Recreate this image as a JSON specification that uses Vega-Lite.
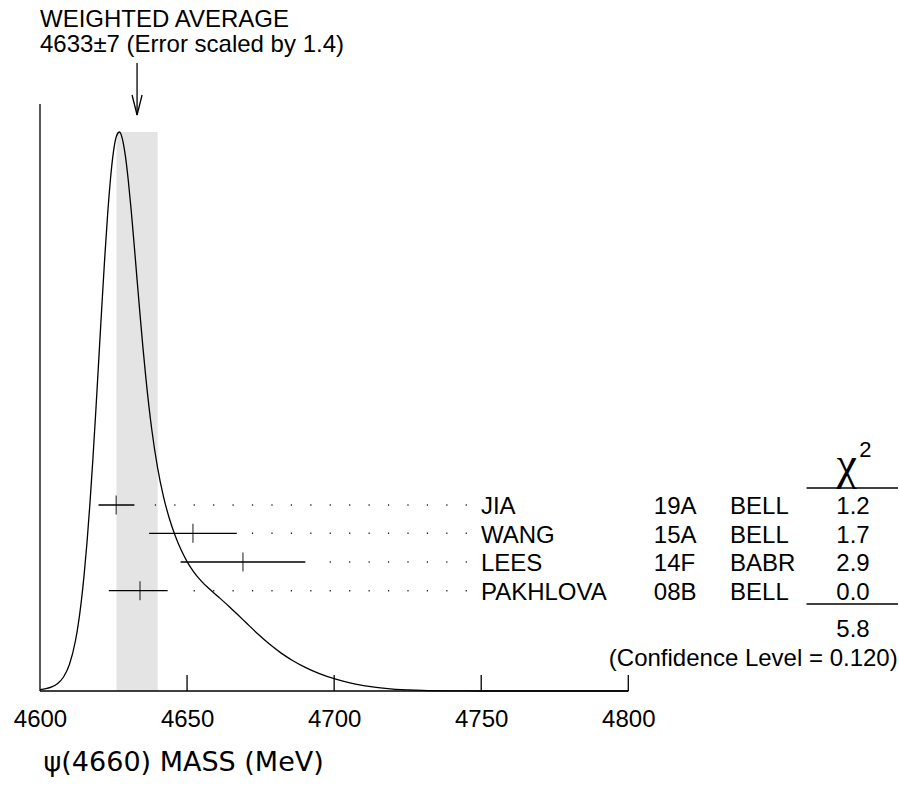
{
  "$schema": "https://vega.github.io/schema/vega-lite/v6.json",
  "width": 858,
  "height": 691,
  "autosize": {"type": "none"},
  "padding": {"left": 40, "top": 0, "right": 1, "bottom": 98},
  "background": "white",
  "config": {"view": {"stroke": null}},
  "datasets": {
    "curve": [
      {"m": 4600, "h": 1.3}, {"m": 4602, "h": 2.3}, {"m": 4604, "h": 4.1}, {"m": 4606, "h": 7.5},
      {"m": 4608, "h": 14.0}, {"m": 4610, "h": 26.5}, {"m": 4612, "h": 49.5}, {"m": 4613, "h": 66.7},
      {"m": 4614, "h": 88.7}, {"m": 4615, "h": 116.1}, {"m": 4616, "h": 149.3}, {"m": 4617, "h": 188.4},
      {"m": 4618, "h": 232.7}, {"m": 4619, "h": 281.3}, {"m": 4620, "h": 332.4}, {"m": 4621, "h": 383.8},
      {"m": 4622, "h": 432.9}, {"m": 4623, "h": 476.9}, {"m": 4624, "h": 513.3}, {"m": 4625, "h": 539.8},
      {"m": 4626, "h": 555.0}, {"m": 4627, "h": 559.0}, {"m": 4628, "h": 552.2}, {"m": 4629, "h": 535.6},
      {"m": 4630, "h": 511.0}, {"m": 4631, "h": 480.7}, {"m": 4632, "h": 446.8}, {"m": 4633, "h": 411.4},
      {"m": 4634, "h": 376.6}, {"m": 4635, "h": 343.4}, {"m": 4636, "h": 312.9}, {"m": 4638, "h": 261.5},
      {"m": 4640, "h": 222.8}, {"m": 4642, "h": 194.1}, {"m": 4644, "h": 172.3}, {"m": 4646, "h": 155.0},
      {"m": 4648, "h": 140.9}, {"m": 4650, "h": 129.4}, {"m": 4652, "h": 120.2}, {"m": 4655, "h": 109.4},
      {"m": 4658, "h": 100.9}, {"m": 4661, "h": 93.2}, {"m": 4664, "h": 85.3}, {"m": 4667, "h": 77.0},
      {"m": 4670, "h": 68.5}, {"m": 4674, "h": 57.2}, {"m": 4678, "h": 46.9}, {"m": 4682, "h": 37.9},
      {"m": 4686, "h": 30.3}, {"m": 4690, "h": 23.9}, {"m": 4695, "h": 17.4}, {"m": 4700, "h": 12.3},
      {"m": 4705, "h": 8.3}, {"m": 4710, "h": 5.4}, {"m": 4715, "h": 3.3}, {"m": 4720, "h": 1.9},
      {"m": 4725, "h": 1.1}, {"m": 4730, "h": 0.55}, {"m": 4740, "h": 0.13}, {"m": 4750, "h": 0.02},
      {"m": 4770, "h": 0}, {"m": 4800, "h": 0}
    ],
    "meas": [
      {"name": "JIA", "ref": "19A", "exp": "BELL", "chi2": "1.2", "val": 4625.9, "lo": 4619.9, "hi": 4632.1, "dotFrom": 4745.13, "dotTo": 4638.8, "row": 186},
      {"name": "WANG", "ref": "15A", "exp": "BELL", "chi2": "1.7", "val": 4652, "lo": 4637.1, "hi": 4666.9, "dotFrom": 4745.13, "dotTo": 4671.9, "row": 157.7},
      {"name": "LEES", "ref": "14F", "exp": "BABR", "chi2": "2.9", "val": 4669, "lo": 4647.8, "hi": 4690.2, "dotFrom": 4745.13, "dotTo": 4698.2, "row": 129},
      {"name": "PAKHLOVA", "ref": "08B", "exp": "BELL", "chi2": "0.0", "val": 4634, "lo": 4623.4, "hi": 4643.4, "dotFrom": 4745.13, "dotTo": 4652.0, "row": 100.3}
    ],
    "band": [{"lo": 4626, "hi": 4640, "bottom": 0, "top": 559}],
    "ticks": [{"m": 4650, "a": 0, "b": 16}, {"m": 4700, "a": 0, "b": 16}, {"m": 4750, "a": 0, "b": 16}, {"m": 4800, "a": 0, "b": 16}],
    "arrowhead": [{"m": 4631.3, "h": 596, "o": 1}, {"m": 4633, "h": 576, "o": 2}, {"m": 4634.7, "h": 596, "o": 3}],
    "hlines": [{"a": 4860.6, "b": 4891.7, "h": 203}, {"a": 4860.6, "b": 4891.7, "h": 87}],
    "title": [
      {"t": "WEIGHTED AVERAGE", "m": 4600, "h": 664.3},
      {"t": "4633±7 (Error scaled by 1.4)", "m": 4600, "h": 639.3}
    ]
  },
  "layer": [
    {
      "data": {"name": "band"},
      "mark": {"type": "rect", "color": "#e4e4e4"},
      "encoding": {
        "x": {"field": "lo", "type": "quantitative", "scale": {"domain": [4600, 4891.7], "nice": false, "zero": false},
          "axis": {"values": [4600, 4650, 4700, 4750, 4800], "format": "d", "ticks": false, "domain": false, "grid": false,
            "labelFont": "Liberation Sans", "labelFontSize": 24, "labelColor": "#000", "labelPadding": 16, "labelFlush": false, "labelOverlap": false,
            "title": "ψ(4660) MASS (MeV)", "titleFont": "DejaVu Sans", "titleFontSize": 27, "titleFontWeight": "normal", "titleColor": "#000",
            "titleAnchor": "start", "titleAlign": "left", "titleBaseline": "alphabetic", "titleX": 3, "titleY": 79}},
        "x2": {"field": "hi"},
        "y": {"field": "bottom", "type": "quantitative", "scale": {"domain": [0, 691], "nice": false}, "axis": null},
        "y2": {"field": "top"}
      }
    },
    {
      "data": {"name": "curve"},
      "mark": {"type": "line", "color": "#000", "strokeWidth": 1.3, "interpolate": "monotone"},
      "encoding": {
        "x": {"field": "m", "type": "quantitative"},
        "y": {"field": "h", "type": "quantitative"}
      }
    },
    {
      "data": {"values": [{"a": 4600, "b": 4800, "h": 0}]},
      "mark": {"type": "rule", "color": "#000", "strokeWidth": 1.6},
      "encoding": {
        "x": {"field": "a", "type": "quantitative"},
        "x2": {"field": "b"},
        "y": {"field": "h", "type": "quantitative"}
      }
    },
    {
      "data": {"values": [{"m": 4600, "a": 0, "b": 587}]},
      "mark": {"type": "rule", "color": "#000", "strokeWidth": 1.3},
      "encoding": {
        "x": {"field": "m", "type": "quantitative"},
        "y": {"field": "a", "type": "quantitative"},
        "y2": {"field": "b"}
      }
    },
    {
      "data": {"name": "ticks"},
      "mark": {"type": "rule", "color": "#000", "strokeWidth": 1.3},
      "encoding": {
        "x": {"field": "m", "type": "quantitative"},
        "y": {"field": "a", "type": "quantitative"},
        "y2": {"field": "b"}
      }
    },
    {
      "data": {"name": "meas"},
      "mark": {"type": "rule", "color": "#000", "strokeWidth": 1.3},
      "encoding": {
        "x": {"field": "lo", "type": "quantitative"},
        "x2": {"field": "hi"},
        "y": {"field": "row", "type": "quantitative"}
      }
    },
    {
      "data": {"name": "meas"},
      "mark": {"type": "tick", "orient": "vertical", "color": "#000", "size": 19, "thickness": 1.3},
      "encoding": {
        "x": {"field": "val", "type": "quantitative"},
        "y": {"field": "row", "type": "quantitative"}
      }
    },
    {
      "data": {"name": "meas"},
      "mark": {"type": "rule", "color": "#222", "strokeWidth": 1.4, "strokeDash": [1.2, 18.23], "strokeCap": "butt"},
      "encoding": {
        "x": {"field": "dotFrom", "type": "quantitative"},
        "x2": {"field": "dotTo"},
        "y": {"field": "row", "type": "quantitative"}
      }
    },
    {
      "data": {"name": "meas"},
      "mark": {"type": "text", "align": "left", "baseline": "alphabetic", "dy": 9.2, "font": "Liberation Sans", "fontSize": 24, "color": "#000"},
      "encoding": {
        "x": {"datum": 4749.9, "type": "quantitative"},
        "y": {"field": "row", "type": "quantitative"},
        "text": {"field": "name"}
      }
    },
    {
      "data": {"name": "meas"},
      "mark": {"type": "text", "align": "left", "baseline": "alphabetic", "dy": 9.2, "font": "Liberation Sans", "fontSize": 24, "color": "#000"},
      "encoding": {
        "x": {"datum": 4808.7, "type": "quantitative"},
        "y": {"field": "row", "type": "quantitative"},
        "text": {"field": "ref"}
      }
    },
    {
      "data": {"name": "meas"},
      "mark": {"type": "text", "align": "left", "baseline": "alphabetic", "dy": 9.2, "font": "Liberation Sans", "fontSize": 24, "color": "#000"},
      "encoding": {
        "x": {"datum": 4834.6, "type": "quantitative"},
        "y": {"field": "row", "type": "quantitative"},
        "text": {"field": "exp"}
      }
    },
    {
      "data": {"name": "meas"},
      "mark": {"type": "text", "align": "center", "baseline": "alphabetic", "dy": 9.2, "font": "Liberation Sans", "fontSize": 24, "color": "#000"},
      "encoding": {
        "x": {"datum": 4876.4, "type": "quantitative"},
        "y": {"field": "row", "type": "quantitative"},
        "text": {"field": "chi2"}
      }
    },
    {
      "data": {"name": "hlines"},
      "mark": {"type": "rule", "color": "#000", "strokeWidth": 1.3},
      "encoding": {
        "x": {"field": "a", "type": "quantitative"},
        "x2": {"field": "b"},
        "y": {"field": "h", "type": "quantitative"}
      }
    },
    {
      "data": {"values": [{"t": "5.8", "h": 63}]},
      "mark": {"type": "text", "align": "center", "baseline": "alphabetic", "dy": 8.6, "font": "Liberation Sans", "fontSize": 24, "color": "#000"},
      "encoding": {
        "x": {"datum": 4876.4, "type": "quantitative"},
        "y": {"field": "h", "type": "quantitative"},
        "text": {"field": "t"}
      }
    },
    {
      "data": {"values": [{"t": "(Confidence Level = 0.120)", "h": 34}]},
      "mark": {"type": "text", "align": "right", "baseline": "alphabetic", "dy": 8.6, "font": "Liberation Sans", "fontSize": 24, "color": "#000"},
      "encoding": {
        "x": {"datum": 4891.6, "type": "quantitative"},
        "y": {"field": "h", "type": "quantitative"},
        "text": {"field": "t"}
      }
    },
    {
      "data": {"values": [{"t": "χ", "h": 212}]},
      "mark": {"type": "text", "align": "center", "baseline": "alphabetic", "font": "Liberation Serif", "fontSize": 46, "color": "#000"},
      "encoding": {
        "x": {"datum": 4874.3, "type": "quantitative"},
        "y": {"field": "h", "type": "quantitative"},
        "text": {"field": "t"}
      }
    },
    {
      "data": {"values": [{"t": "2", "h": 234}]},
      "mark": {"type": "text", "align": "left", "baseline": "alphabetic", "font": "Liberation Sans", "fontSize": 22, "color": "#000"},
      "encoding": {
        "x": {"datum": 4878.5, "type": "quantitative"},
        "y": {"field": "h", "type": "quantitative"},
        "text": {"field": "t"}
      }
    },
    {
      "data": {"name": "title"},
      "mark": {"type": "text", "align": "left", "baseline": "alphabetic", "font": "Liberation Sans", "fontSize": 24, "color": "#000"},
      "encoding": {
        "x": {"field": "m", "type": "quantitative"},
        "y": {"field": "h", "type": "quantitative"},
        "text": {"field": "t"}
      }
    },
    {
      "data": {"values": [{"m": 4633, "a": 576, "b": 628}]},
      "mark": {"type": "rule", "color": "#000", "strokeWidth": 1.3},
      "encoding": {
        "x": {"field": "m", "type": "quantitative"},
        "y": {"field": "a", "type": "quantitative"},
        "y2": {"field": "b"}
      }
    },
    {
      "data": {"name": "arrowhead"},
      "mark": {"type": "line", "color": "#000", "strokeWidth": 1.3},
      "encoding": {
        "x": {"field": "m", "type": "quantitative"},
        "y": {"field": "h", "type": "quantitative"},
        "order": {"field": "o"}
      }
    }
  ]
}
